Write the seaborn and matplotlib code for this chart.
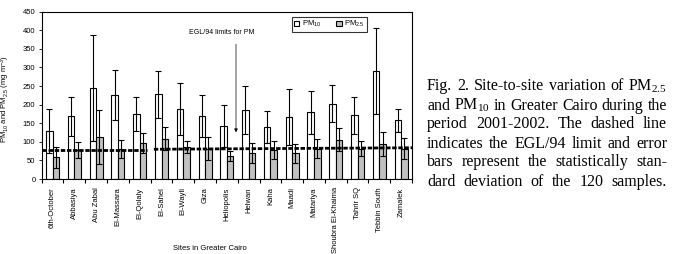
import matplotlib
matplotlib.use("Agg")
import matplotlib.pyplot as plt
import seaborn as sns
import pandas as pd
import numpy as np

sites = ["6th-October", "Abbasiya", "Abu Zabal", "El-Massara", "El-Qolaly",
         "El-Sahel", "El-Wayli", "Giza", "Heliopolis", "Helwan", "Kaha",
         "Maadi", "Matariya", "Shoubra El-Khaima", "Tahrir SQ",
         "Tebbin South", "Zamalek"]
pm10_mean = [129, 169, 244, 226, 175, 228, 188, 169, 142, 186, 140, 167, 179, 203, 171, 290, 158]
pm10_sd = [59, 52, 142, 67, 45, 63, 69, 57, 56, 64, 43, 75, 57, 49, 49, 116, 31]
pm25_mean = [58, 78, 113, 81, 96, 108, 86, 82, 62, 69, 79, 69, 82, 105, 82, 94, 82]
pm25_sd = [29, 21, 72, 25, 27, 31, 17, 30, 14, 27, 24, 25, 25, 31, 20, 33, 27]
series_labels = ["PM$\\mathregular{_{10}}$", "PM$\\mathregular{_{2.5}}$"]
limit_left = [79, 79]
limit_right = [80, 84]
y_ticks = list(range(0, 451, 50))

caption_lines = [
    "Fig. 2. Site-to-site variation of PM$\\mathregular{_{2.5}}$",
    "and PM$\\mathregular{_{10}}$ in Greater Cairo during the",
    "period 2001-2002. The dashed line",
    "indicates the EGL/94 limit and error",
    "bars represent the statistically stan-",
    "dard deviation of the 120 samples.",
]

plt.rcParams["font.family"] = ["Liberation Sans", "DejaVu Sans"]
plt.rcParams["mathtext.default"] = "regular"

df = pd.DataFrame({
    "site": sites * 2,
    "value": pm10_mean + pm25_mean,
    "type": ["PM10"] * len(sites) + ["PM2.5"] * len(sites),
})

W, H = 673, 254
fig = plt.figure(figsize=(W / 100, H / 100), dpi=100)
ax = fig.add_axes([41.7 / W, 1 - 179 / H, (412 - 41.7) / W, (179 - 11.7) / H])

sns.barplot(data=df, x="site", y="value", hue="type",
            palette=["white", "#c0c0c0"], edgecolor="black", linewidth=0.8,
            width=0.6, errorbar=None, legend=False, ax=ax, saturation=1)

for cont, means, sds in zip(ax.containers[:2], [pm10_mean, pm25_mean], [pm10_sd, pm25_sd]):
    xs = [p.get_x() + p.get_width() / 2 for p in cont.patches]
    ax.errorbar(xs, means, yerr=sds, fmt="none", ecolor="black",
                elinewidth=0.8, capsize=2.3, capthick=0.8, zorder=4)

ax.plot([-0.5, 4.33], limit_left, color="black", lw=2.0, ls=(0, (1.6, 0.6)), zorder=5)
ax.plot([4.65, 16.5], limit_right, color="black", lw=2.0, ls=(0, (1.6, 0.6)), zorder=5)

ax.annotate("", xy=(8.42, 118), xytext=(8.42, 370),
            arrowprops=dict(arrowstyle="-|>", color="black", lw=0.5,
                            mutation_scale=5))
ax.text(7.77, 393, "EGL/94 limits for PM", ha="center", va="center", fontsize=5)

ax.set_xlim(-0.5, len(sites) - 0.5)
ax.set_ylim(0, 450)
ax.set_yticks(y_ticks)
ax.tick_params(axis="y", labelsize=5.5, length=2.5, width=0.6, pad=2)
ax.set_xticks(range(len(sites)))
ax.set_xticklabels(sites, rotation=90, fontsize=5.5)
ax.tick_params(axis="x", which="major", length=0, pad=6)
ax.set_xticks(np.arange(-0.5, len(sites), 1), minor=True)
ax.tick_params(axis="x", which="minor", length=3, width=0.8)
for s in ax.spines.values():
    s.set_linewidth(0.8)
    s.set_color("black")

ax.set_xlabel("Sites in Greater Cairo", fontsize=5.5)
ax.xaxis.set_label_coords((210 - 41.7) / 370.3, (179 - 245) / 167.3)
ax.set_ylabel("PM$\\mathregular{_{10}}$ and PM$\\mathregular{_{2.5}}$ (mg m$\\mathregular{^{-3}}$)", fontsize=5.5)
ax.yaxis.set_label_coords((12 - 41.7) / 370.3, (179 - 99) / 167.3)

leg = ax.legend(ax.containers[:2], series_labels, ncol=2, loc="upper right",
                bbox_to_anchor=((367 - 41.7) / 370.3, (179 - 17) / 167.3),
                fontsize=5.5, frameon=True, fancybox=False, edgecolor="black",
                handlelength=0.7, handleheight=0.7, handletextpad=0.3,
                columnspacing=2.0, borderpad=0.3, borderaxespad=0)
leg.get_frame().set_linewidth(0.8)

# caption, justified
renderer = fig.canvas.get_renderer()
x0, x1 = 427, 667
serif = ["Liberation Serif", "DejaVu Serif"]
# find a font size at which the widest line fits with natural spacing
ref_fs = 10.0
nat = []
for line in caption_lines:
    t = fig.text(0, 0, line, fontsize=ref_fs, family=serif)
    nat.append(t.get_window_extent(renderer).width)
    t.remove()
fs = ref_fs * (x1 - x0) / max(nat)

baselines = [90.5, 109.5, 128.5, 147.5, 166.5, 185.5]
for line, yb in zip(caption_lines, baselines):
    words = line.split(" ")
    texts = [fig.text(0, 1 - yb / H, w, fontsize=fs, va="baseline", ha="left",
                      family=serif) for w in words]
    widths = [t.get_window_extent(renderer).width for t in texts]
    gap = (x1 - x0 - sum(widths)) / (len(words) - 1)
    x = x0
    for t, w in zip(texts, widths):
        t.set_x(x / W)
        x += w + gap

fig.savefig("out.png", dpi=100)
